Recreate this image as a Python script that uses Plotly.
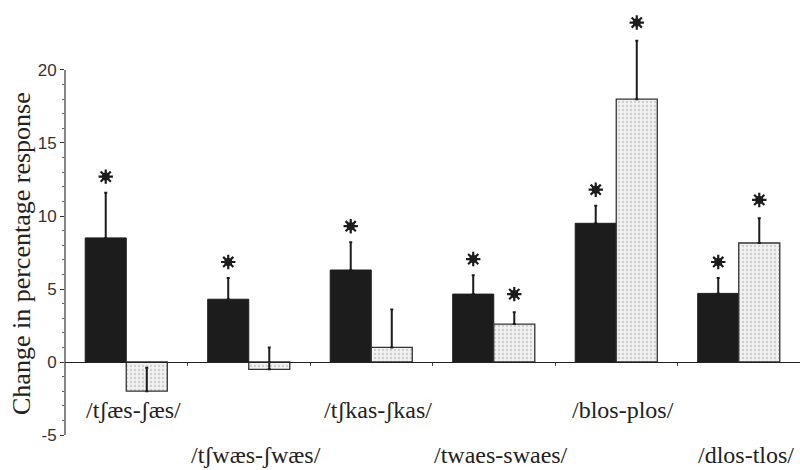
import plotly.graph_objects as go

categories = ["/tʃæs-ʃæs/", "/tʃwæs-ʃwæs/", "/tʃkas-ʃkas/", "/twaes-swaes/", "/blos-plos/", "/dlos-tlos/"]
black_vals = [8.5, 4.3, 6.3, 4.65, 9.5, 4.7]
black_err = [3.1, 1.45, 1.9, 1.3, 1.2, 1.05]
gray_vals = [-2.0, -0.5, 1.0, 2.6, 18.0, 8.15]
gray_err = [1.6, 1.5, 2.6, 0.8, 4.0, 1.7]
black_sig = [True, True, True, True, True, True]
gray_sig = [False, False, False, True, True, True]
label_row = [0, 1, 0, 1, 0, 1]
ytick_vals = [-5, 0, 5, 10, 15, 20]
ytick_text = ["-5", "0", "5", "10", "15", "20"]

x = list(range(len(categories)))
ink = "#1c1c1c"
serif = "Liberation Serif, Times New Roman, DejaVu Serif, serif"

fig = go.Figure()
fig.add_trace(go.Bar(
    x=x, y=black_vals, offsetgroup="a",
    marker=dict(color=ink, line=dict(color=ink, width=1)),
    error_y=dict(type="data", symmetric=False, array=black_err, arrayminus=[0]*6,
                 color=ink, thickness=2, width=1.5),
    showlegend=False,
))
fig.add_trace(go.Bar(
    x=x, y=gray_vals, offsetgroup="b",
    marker=dict(color="#f1f1f1", line=dict(color="#333", width=1.3),
                pattern=dict(shape=".", fgcolor="#a8a8a8", bgcolor="#f1f1f1", size=4, solidity=0.25)),
    error_y=dict(type="data", symmetric=False, array=gray_err, arrayminus=[0]*6,
                 color=ink, thickness=2, width=1.5),
    showlegend=False,
))

# significance stars above the error bars
half = 0.335 / 2
sx, sy = [], []
for i in x:
    if black_sig[i]:
        sx.append(i - half); sy.append(black_vals[i] + black_err[i] + 1.1)
    if gray_sig[i]:
        sx.append(i + half); sy.append(gray_vals[i] + gray_err[i] + 1.25)
fig.add_trace(go.Scatter(x=sx, y=sy, mode="markers", showlegend=False,
                         marker=dict(symbol="circle", size=8, color=ink)))
fig.add_trace(go.Scatter(x=sx, y=sy, mode="markers", showlegend=False,
                         marker=dict(symbol="asterisk-open", size=12, color=ink,
                                     line=dict(color=ink, width=2.2))))

# category labels in two staggered rows
for i, lab in enumerate(categories):
    fig.add_annotation(x=i, y=-5, yref="y", xref="x", text=lab, showarrow=False,
                       xshift=7, yshift=(25 if label_row[i] == 0 else -20),
                       font=dict(family=serif, size=24, color="#222"))

# y-axis title
fig.add_annotation(xref="paper", yref="paper", x=0, y=0.42, xshift=-43,
                   xanchor="center", yanchor="middle",
                   text="Change in percentage response", textangle=-90, showarrow=False,
                   font=dict(family=serif, size=26, color="#222"))

# y axis line only spanning the tick range
fig.add_shape(type="line", xref="paper", yref="y", x0=0, x1=0, y0=-5, y1=20,
              line=dict(color="#333", width=1.2))

zero_pos = 5 / (24.52 + 5)
fig.update_layout(
    width=800, height=470,
    margin=dict(l=65, r=0, t=4, b=35),
    paper_bgcolor="white", plot_bgcolor="white",
    barmode="group", bargap=0.33, bargroupgap=0,
    xaxis=dict(range=[-0.5, 5.5], showgrid=False, zeroline=False,
               anchor="free", position=zero_pos, showline=True, linecolor="#222", linewidth=1.3,
               tickmode="array", tickvals=[0.5, 1.5, 2.5, 3.5, 4.5], ticks="outside",
               ticklen=3, tickcolor="#444", tickwidth=1, showticklabels=False),
    yaxis=dict(range=[-5, 24.52], showgrid=False, zeroline=False, showline=False,
               tickmode="array", tickvals=ytick_vals, ticktext=ytick_text,
               ticks="outside", ticklen=4, tickcolor="#333", tickwidth=1.2,
               tickfont=dict(family="Liberation Sans, Arial, sans-serif", size=17, color="#333"),
               minor=dict(tickmode="array", tickvals=list(range(-5, 21)), ticks="outside",
                          ticklen=2, tickcolor="#666", tickwidth=1)),
)

fig.write_html("out.html")
